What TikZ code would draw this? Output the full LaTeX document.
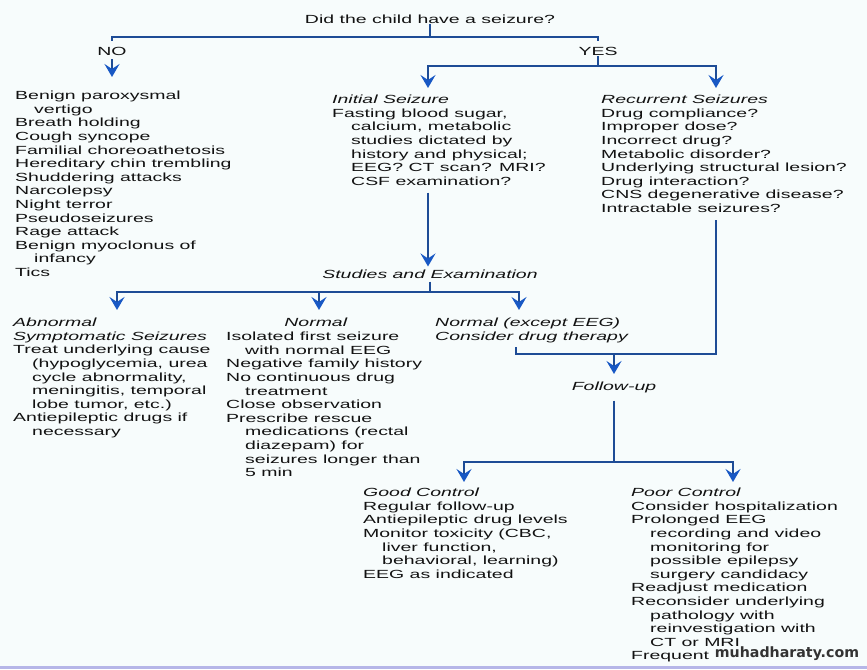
\documentclass[tikz,border=0pt]{standalone}
\usepackage{fontspec}
\setmainfont{Liberation Sans}[FakeStretch=1.65]
\newfontfamily\wmfont{DejaVu Sans}
\usepackage{tikz}
\usetikzlibrary{arrows.meta, calc}
\definecolor{lineBlue}{RGB}{30, 76, 150}
\definecolor{tipBlue}{RGB}{24, 88, 196}
\definecolor{bgPage}{RGB}{247, 252, 252}
\definecolor{bandLilac}{RGB}{182, 182, 232}
\definecolor{txtDark}{RGB}{18, 18, 18}
\newcommand{\ind}{\hspace*{19pt}}

\begin{document}
\begin{tikzpicture}[
    x=1pt, y=-1pt,
    font=\fontsize{11.8}{13.6}\selectfont\color{txtDark},
    txt/.style={inner sep=0pt, align=left, anchor=north west},
    lbl/.style={inner sep=0pt},
    trunk/.style={draw=lineBlue, line width=2.6pt},
    arr/.style={trunk, -{Stealth[length=13pt, width=15pt, inset=5pt, color=tipBlue]}}
]
\fill[bgPage] (0,0) rectangle (867,669);
\useasboundingbox (0,0) rectangle (867,669);
\fill[bandLilac] (0,666) rectangle (867,669);

% question and first split
\node[lbl] (q0) at (430,19) {Did the child have a seizure?};
\node[lbl] (no) at (112,51) {NO};
\node[lbl] (yes) at (598,51) {YES};
\coordinate (bar1) at (430,37);
\draw[trunk] (q0.south) -- (bar1);
\draw[trunk] ([yshift=6pt]no.north) |- (bar1) -| ([yshift=6pt]yes.north);

\node[txt] (nolist) at (15,91) {Benign paroxysmal\\ \ind vertigo\\ Breath holding\\ Cough syncope\\ Familial choreoathetosis\\ Hereditary chin trembling\\ Shuddering attacks\\ Narcolepsy\\ Night terror\\ Pseudoseizures\\ Rage attack\\ Benign myoclonus of\\ \ind infancy\\ Tics};
\draw[arr] ([yshift=-4pt]no.south) -- ([yshift=14pt]nolist.north -| no.south);

% yes branch
\node[txt] (init) at (332,95) {\textit{Initial Seizure}\\ Fasting blood sugar,\\ \ind calcium, metabolic\\ \ind studies dictated by\\ \ind history and physical;\\ \ind EEG? CT scan? MRI?\\ \ind CSF examination?};
\node[txt] (rec) at (601,95) {\textit{Recurrent Seizures}\\ Drug compliance?\\ Improper dose?\\ Incorrect drug?\\ Metabolic disorder?\\ Underlying structural lesion?\\ Drug interaction?\\ CNS degenerative disease?\\ Intractable seizures?};
\coordinate (bar2) at (598,66);
\coordinate (initin) at (428,88);
\coordinate (recin) at (716,88);
\draw[trunk] ([yshift=-1pt]yes.south) -- (bar2);
\draw[arr] (bar2) -| (initin);
\draw[arr] (bar2) -| (recin);

\node[lbl] (stud) at (430,274) {\textit{Studies and Examination}};
\draw[arr] ([yshift=-7pt]init.south -| initin) -- ([yshift=3pt]stud.north -| initin);

% studies split
\node[txt] (abn) at (13,318) {\textit{Abnormal}\\ \textit{Symptomatic Seizures}\\ Treat underlying cause\\ \ind (hypoglycemia, urea\\ \ind cycle abnormality,\\ \ind meningitis, temporal\\ \ind lobe tumor, etc.)\\ Antiepileptic drugs if\\ \ind necessary};
\node[lbl] (normhead) at (316,322) {\textit{Normal}};
\node[txt] (norm) at (226,332) {Isolated first seizure\\ \ind with normal EEG\\ Negative family history\\ No continuous drug\\ \ind treatment\\ Close observation\\ Prescribe rescue\\ \ind medications (rectal\\ \ind diazepam) for\\ \ind seizures longer than\\ \ind 5 min};
\node[txt] (drugex) at (435,318) {\textit{Normal (except EEG)}\\ \textit{Consider drug therapy}};
\coordinate (bar3) at (430,292);
\draw[trunk] ([yshift=-3pt]stud.south) -- (bar3);
\draw[arr] (bar3) -| (117,310);
\draw[arr] (bar3) -| (319,310);
\draw[arr] (bar3) -| (519,310);

% follow-up
\coordinate (join) at (614,354);
\coordinate (exout) at (516,347);
\coordinate (recout) at (716,220);
\draw[trunk] (exout) |- (recout |- join) -- (recout);
\node[lbl] (follow) at (614,387) {\textit{Follow-up}};
\draw[arr] (join) -- (614,374);

\node[txt] (good) at (363,488) {\textit{Good Control}\\ Regular follow-up\\ Antiepileptic drug levels\\ Monitor toxicity (CBC,\\ \ind liver function,\\ \ind behavioral, learning)\\ EEG as indicated};
\node[txt] (poor) at (631,488) {\textit{Poor Control}\\ Consider hospitalization\\ Prolonged EEG\\ \ind recording and video\\ \ind monitoring for\\ \ind possible epilepsy\\ \ind surgery candidacy\\ Readjust medication\\ Reconsider underlying\\ \ind pathology with\\ \ind reinvestigation with\\ \ind CT or MRI\\ Frequent};
\coordinate (bar4) at (614,462);
\draw[trunk] ([yshift=-8pt]follow.south) -- (bar4);
\draw[arr] (bar4) -| (464,482);
\draw[arr] (bar4) -| (733,482);

\node[lbl, font=\wmfont\bfseries\fontsize{14.2}{15}\selectfont\color{black!80}] (wmark) at (787,654) {muhadharaty.com};
\end{tikzpicture}
\end{document}
